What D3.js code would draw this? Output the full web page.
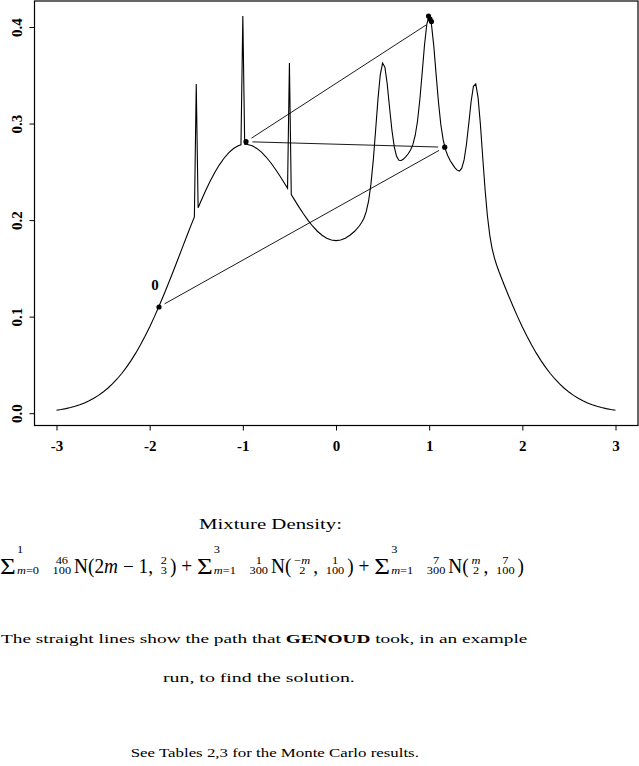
<!DOCTYPE html>
<html><head><meta charset="utf-8">
<script src="https://cdn.jsdelivr.net/npm/d3@7"></script>
<style>
html,body{margin:0;padding:0;background:#fff;}
svg{display:block;}
text{font-family:"Liberation Serif","Times New Roman",serif;white-space:pre;fill:#000;}
</style></head><body>
<svg id="chart" width="639" height="766"></svg>
<script>
// ---- data ----
const densityX = [-3.00,-2.95,-2.90,-2.85,-2.80,-2.75,-2.70,-2.65,-2.60,-2.55,-2.50,-2.45,-2.40,-2.35,-2.30,-2.25,-2.20,-2.15,-2.10,-2.05,-2.00,-1.95,-1.90,-1.85,-1.80,-1.75,-1.70,-1.65,-1.60,-1.55,-1.52,-1.50,-1.48,-1.45,-1.40,-1.35,-1.30,-1.25,-1.20,-1.15,-1.10,-1.05,-1.02,-1.00,-0.98,-0.95,-0.90,-0.85,-0.80,-0.75,-0.70,-0.65,-0.60,-0.55,-0.52,-0.50,-0.48,-0.45,-0.40,-0.35,-0.30,-0.25,-0.20,-0.15,-0.10,-0.05,0.00,0.05,0.10,0.15,0.20,0.25,
  0.275,0.300,0.325,0.350,0.375,0.400,0.425,0.450,0.475,0.500,0.525,0.550,0.575,0.600,0.625,0.650,0.675,0.700,0.725,0.750,0.775,0.800,0.825,0.850,0.875,0.900,0.925,0.950,0.975,1.000,1.025,1.050,1.075,1.100,1.125,1.150,1.175,1.200,1.225,1.250,1.275,1.300,1.325,1.350,1.375,1.400,1.425,1.450,1.475,1.500,1.525,1.550,1.575,1.600,1.625,1.650,1.675,1.700,1.725,1.750,
  1.80,1.85,1.90,1.95,2.00,2.05,2.10,2.15,2.20,2.25,2.30,2.35,2.40,2.45,2.50,2.55,2.60,2.65,2.70,2.75,2.80,2.85,2.90,2.95,3.00];
const densityY = [0.00306,0.00382,0.00474,0.00586,0.00719,0.00878,0.01066,0.01287,0.01545,0.01845,0.02190,0.02585,0.03035,0.03543,0.04112,0.04746,0.05448,0.06218,0.07056,0.07964,0.08938,0.09975,0.11069,0.12214,0.13403,0.14625,0.15869,0.17124,0.18374,0.19605,0.20330,0.34101,0.21270,0.21951,0.23035,0.24038,0.24948,0.25750,0.26435,0.26991,0.27412,0.27693,0.27794,0.41131,0.27849,0.27832,0.27693,0.27424,0.27035,0.26536,0.25942,0.25270,0.24538,0.23764,0.23289,0.36267,0.22650,0.22172,0.21395,0.20656,0.19974,0.19366,0.18846,0.18429,0.18123,0.17937,0.17873,0.17937,0.18123,0.18429,0.18846,0.19389,
  0.19746,0.20198,0.20899,0.21995,0.23726,0.26188,0.29275,0.32475,0.35047,0.36267,0.35843,0.34067,0.31642,0.29331,0.27604,0.26609,0.26190,0.26167,0.26321,0.26582,0.26868,0.27260,0.27814,0.28763,0.30259,0.32486,0.35254,0.38135,0.40312,0.41131,0.40239,0.37996,0.35044,0.32205,0.29902,0.28330,0.27297,0.26660,0.26175,0.25796,0.25431,0.25173,0.25077,0.25377,0.26237,0.27828,0.29984,0.32254,0.33853,0.34101,0.32680,0.29908,0.26481,0.23167,0.20449,0.18463,0.17081,0.16093,0.15323,0.14648,
  0.13404,0.12214,0.11069,0.09975,0.08938,0.07964,0.07056,0.06218,0.05448,0.04746,0.04112,0.03543,0.03035,0.02585,0.02190,0.01845,0.01545,0.01287,0.01066,0.00878,0.00719,0.00586,0.00474,0.00382,0.00306];

const pathX = [-1.900, 1.167, -0.966, 1.025, 1.009, 0.993];
const pathY = [0.1100, 0.2755, 0.2812, 0.4057, 0.4083, 0.4114];
const startLabel = "0";

const xTicks = [-3, -2, -1, 0, 1, 2, 3];
const yTicks = [0.0, 0.1, 0.2, 0.3, 0.4];

const titleText = "Mixture Density:";
const captionParts = [["The straight lines show the path that ", false], ["GENOUD", true], [" took, in an example", false]];
const captionLine2 = "run, to find the solution.";
const footText = "See Tables 2,3 for the Monte Carlo results.";
// formula tokens: [kind, a, b]
const formulaTokens = [
  ["sum", "1", "m=0"], ["frac", "46", "100"], ["txt", "N(2m \u2212 1, "], ["frac", "2", "3"], ["txt", ") + "],
  ["sum", "3", "m=1"], ["frac", "1", "300"], ["txt", "N("], ["frac", "\u2212m", "2"], ["txt", ", "], ["frac", "1", "100"], ["txt", ") + "],
  ["sum", "3", "m=1"], ["frac", "7", "300"], ["txt", "N("], ["frac", "m", "2"], ["txt", ", "], ["frac", "7", "100"], ["txt", ")"]
];

// ---- drawing ----
const svg = d3.select("#chart");
const box = {left: 34.5, right: 638, top: 1, bottom: 425.5};
const x = d3.scaleLinear().domain([-3, 3]).range([56.5, 615.5]);
const y = d3.scaleLinear().domain([0, 0.4]).range([413.2, 27]);

svg.append("rect").attr("x", box.left).attr("y", box.top)
  .attr("width", box.right - box.left).attr("height", box.bottom - box.top)
  .attr("fill", "none").attr("stroke", "#000").attr("stroke-width", 1.2);

const xAxis = svg.append("g").attr("transform", `translate(0,${box.bottom})`)
  .call(d3.axisBottom(x).tickValues(xTicks).tickSize(5).tickSizeOuter(0).tickFormat(d => String(d)));
xAxis.select(".domain").remove();
xAxis.selectAll("text").attr("y", 25.5).attr("dy", null)
  .attr("font-family", null).attr("font-size", null)
  .style("font-size", "15px").style("font-weight", "bold");

const yAxis = svg.append("g").attr("transform", `translate(${box.left},0)`)
  .call(d3.axisLeft(y).tickValues(yTicks).tickSize(5).tickSizeOuter(0).tickFormat(d3.format(".1f")));
yAxis.select(".domain").remove();
yAxis.selectAll("text").attr("x", null).attr("dy", null).attr("text-anchor", "middle")
  .attr("font-family", null).attr("font-size", null)
  .attr("transform", `translate(${22.3 - box.left},0) rotate(-90)`)
  .style("font-size", "15px").style("font-weight", "bold");
svg.selectAll(".tick line").attr("stroke", "#000");

const pts = densityX.map((d, i) => [d, densityY[i]]);
svg.append("path").datum(pts)
  .attr("d", d3.line().x(d => x(d[0])).y(d => y(d[1])))
  .attr("fill", "none").attr("stroke", "#000").attr("stroke-width", 1.1);

// GENOUD path: points joined by lines with gaps (type "b")
const path = pathX.map((d, i) => [x(d), y(pathY[i])]);
const gap = 6.5;
for (let i = 0; i < path.length - 1; i++) {
  const [x0, y0] = path[i], [x1, y1] = path[i + 1];
  const L = Math.hypot(x1 - x0, y1 - y0);
  if (L <= 2 * gap) continue;
  const ux = (x1 - x0) / L, uy = (y1 - y0) / L;
  svg.append("line")
    .attr("x1", x0 + ux * gap).attr("y1", y0 + uy * gap)
    .attr("x2", x1 - ux * gap).attr("y2", y1 - uy * gap)
    .attr("stroke", "#000").attr("stroke-width", 0.9);
}
svg.selectAll("circle.pt").data(path).join("circle").attr("class", "pt")
  .attr("cx", d => d[0]).attr("cy", d => d[1]).attr("r", 2.6).attr("fill", "#000");
svg.append("text").attr("x", path[0][0] - 4).attr("y", path[0][1] - 17.3)
  .attr("text-anchor", "middle").style("font-size", "15px").style("font-weight", "bold").text(startLabel);

// ---- text below ----
function fit(sel, x0, x1) {
  const bb = sel.node().getBBox();
  const s = (x1 - x0) / bb.width;
  sel.attr("transform", `translate(${x0 - bb.x * s},0) scale(${s},1)`);
}
function rich(sel, str) {
  str.split(/(m)/).forEach(p => {
    if (!p) return;
    const t = sel.append("tspan").text(p);
    if (p === "m") t.attr("font-style", "italic");
  });
}

const t1 = svg.append("text").attr("x", 0).attr("y", 528.7).style("font-size", "14px").text(titleText);
fit(t1, 199, 342);

const fg = svg.append("g");
let cx = 0;
const base = 572.7, small = 10.5, squeeze = 0.82;
formulaTokens.forEach(([kind, a, b]) => {
  if (kind === "txt") {
    const g = fg.append("g").attr("transform", `translate(${cx},0) scale(${squeeze},1)`);
    const t = g.append("text").attr("x", 0).attr("y", base).style("font-size", "20px");
    rich(t, a);
    cx += t.node().getComputedTextLength() * squeeze;
  } else if (kind === "sum") {
    const s = fg.append("text").attr("x", cx).attr("y", 574.3).style("font-size", "23px").text("\u03A3");
    cx += s.node().getComputedTextLength() + 1;
    const sp = fg.append("text").attr("x", cx).attr("y", 553.5).style("font-size", small + "px");
    rich(sp, a);
    const sb = fg.append("text").attr("x", cx).attr("y", 574.3).style("font-size", small + "px");
    rich(sb, b);
    cx += Math.max(sp.node().getComputedTextLength(), sb.node().getComputedTextLength()) + 9;
  } else if (kind === "frac") {
    const nu = fg.append("text").attr("y", 564.2).attr("text-anchor", "middle").style("font-size", small + "px");
    rich(nu, a);
    const de = fg.append("text").attr("y", 574.3).attr("text-anchor", "middle").style("font-size", small + "px");
    rich(de, b);
    const w = Math.max(nu.node().getComputedTextLength(), de.node().getComputedTextLength());
    nu.attr("x", cx + w / 2 + 2.5); de.attr("x", cx + w / 2 + 2.5);
    cx += w + 5;
  }
});
fit(fg, 0, 524);

const c1 = svg.append("text").attr("x", 0).attr("y", 642.7).style("font-size", "13px");
captionParts.forEach(([s, bold]) => {
  const t = c1.append("tspan").text(s);
  if (bold) t.attr("font-weight", "bold");
});
fit(c1, 1, 528);

const c2 = svg.append("text").attr("x", 0).attr("y", 681.7).style("font-size", "13px").text(captionLine2);
fit(c2, 163, 355);

const c3 = svg.append("text").attr("x", 0).attr("y", 756.7).style("font-size", "13px").text(footText);
fit(c3, 130.7, 419);
</script>
</body></html>
